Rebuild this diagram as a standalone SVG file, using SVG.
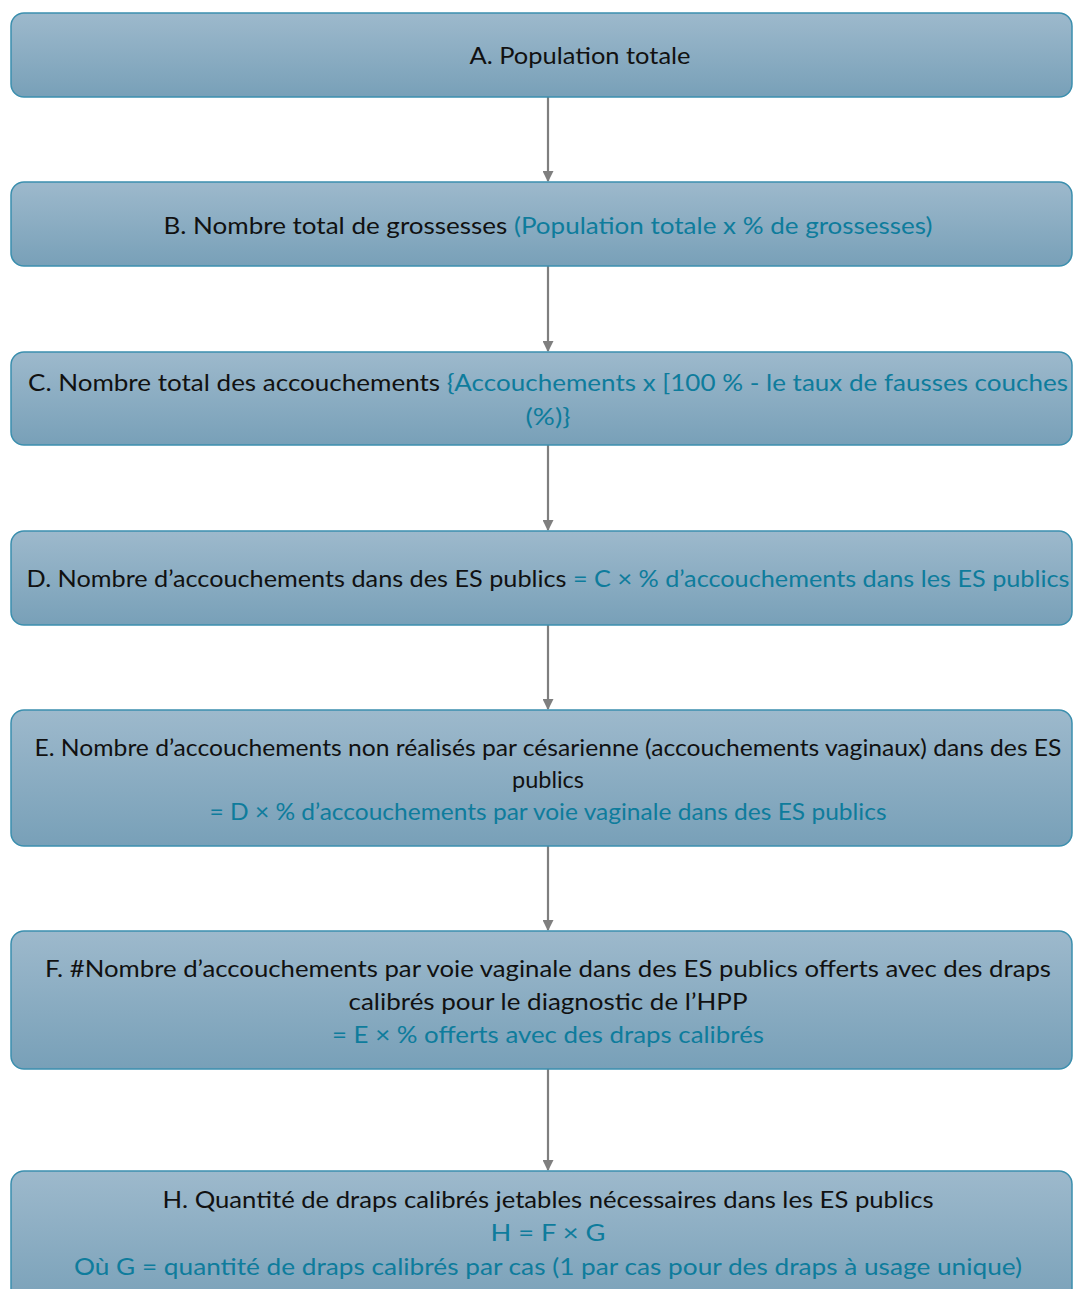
<svg xmlns="http://www.w3.org/2000/svg" width="1074" height="1289" viewBox="0 0 1074 1289">
  <style>
    .box { fill: url(#boxFill); stroke: #3b8fae; stroke-width: 1.5; }
    .t { font-family: Lato, "Open Sans", "Liberation Sans", sans-serif; font-size: 23px; fill: #111111; text-anchor: middle; }
    .f { fill: #0e7c9c; }
    .conn { stroke: #7f7f7f; stroke-width: 2.2; fill: none; marker-end: url(#arrow); }
  </style>
  <defs>
    <linearGradient id="boxFill" x1="0" y1="0" x2="0" y2="1">
      <stop offset="0" stop-color="#9db9cc"/>
      <stop offset="1" stop-color="#78a0b8"/>
    </linearGradient>
    <marker id="arrow" viewBox="0 0 10 10" refX="9" refY="5" markerWidth="5" markerHeight="5" orient="auto" markerUnits="strokeWidth">
      <path d="M0,0 L10,5 L0,10 z" fill="#7f7f7f"/>
    </marker>
  </defs>

  <!-- connectors between successive steps -->
  <g id="connectors">
    <line class="conn" x1="548" y1="97" x2="548" y2="181"/>
    <line class="conn" x1="548" y1="266" x2="548" y2="351"/>
    <line class="conn" x1="548" y1="445" x2="548" y2="530"/>
    <line class="conn" x1="548" y1="625" x2="548" y2="709"/>
    <line class="conn" x1="548" y1="846" x2="548" y2="930"/>
    <line class="conn" x1="548" y1="1069" x2="548" y2="1170"/>
  </g>

  <g id="nodeA">
    <rect class="box" x="11" y="13" width="1061" height="84" rx="13"/>
    <text class="t" x="580" y="64" textLength="221" lengthAdjust="spacingAndGlyphs">A. Population totale</text>
  </g>

  <g id="nodeB">
    <rect class="box" x="11" y="182" width="1061" height="84" rx="13"/>
    <text class="t" x="548" y="234" textLength="769" lengthAdjust="spacingAndGlyphs">B. Nombre total de grossesses <tspan class="f">(Population totale x % de grossesses)</tspan></text>
  </g>

  <g id="nodeC">
    <rect class="box" x="11" y="352" width="1061" height="93" rx="13"/>
    <text class="t" x="548" y="391" textLength="1040" lengthAdjust="spacingAndGlyphs">C. Nombre total des accouchements <tspan class="f">{Accouchements x [100 % - le taux de fausses couches</tspan></text>
    <text class="t f" x="548" y="425" textLength="45" lengthAdjust="spacingAndGlyphs">(%)}</text>
  </g>

  <g id="nodeD">
    <rect class="box" x="11" y="531" width="1061" height="94" rx="13"/>
    <text class="t" x="548" y="587" textLength="1043" lengthAdjust="spacingAndGlyphs">D. Nombre d’accouchements dans des ES publics <tspan class="f">= C × % d’accouchements dans les ES publics</tspan></text>
  </g>

  <g id="nodeE">
    <rect class="box" x="11" y="710" width="1061" height="136" rx="13"/>
    <text class="t" x="548" y="756" textLength="1027" lengthAdjust="spacingAndGlyphs">E. Nombre d’accouchements non réalisés par césarienne (accouchements vaginaux) dans des ES</text>
    <text class="t" x="548" y="788" textLength="72" lengthAdjust="spacingAndGlyphs">publics</text>
    <text class="t f" x="548" y="820" textLength="677" lengthAdjust="spacingAndGlyphs">= D × % d’accouchements par voie vaginale dans des ES publics</text>
  </g>

  <g id="nodeF">
    <rect class="box" x="11" y="931" width="1061" height="138" rx="13"/>
    <text class="t" x="548" y="977" textLength="1006" lengthAdjust="spacingAndGlyphs">F. #Nombre d’accouchements par voie vaginale dans des ES publics offerts avec des draps</text>
    <text class="t" x="548" y="1010" textLength="399" lengthAdjust="spacingAndGlyphs">calibrés pour le diagnostic de l’HPP</text>
    <text class="t f" x="548" y="1043" textLength="432" lengthAdjust="spacingAndGlyphs">= E × % offerts avec des draps calibrés</text>
  </g>

  <g id="nodeH">
    <rect class="box" x="11" y="1171" width="1061" height="140" rx="13"/>
    <text class="t" x="548" y="1208" textLength="771" lengthAdjust="spacingAndGlyphs">H. Quantité de draps calibrés jetables nécessaires dans les ES publics</text>
    <text class="t f" x="548" y="1241" textLength="115" lengthAdjust="spacingAndGlyphs">H = F × G</text>
    <text class="t f" x="548" y="1275" textLength="948" lengthAdjust="spacingAndGlyphs">Où G = quantité de draps calibrés par cas (1 par cas pour des draps à usage unique)</text>
  </g>
</svg>
